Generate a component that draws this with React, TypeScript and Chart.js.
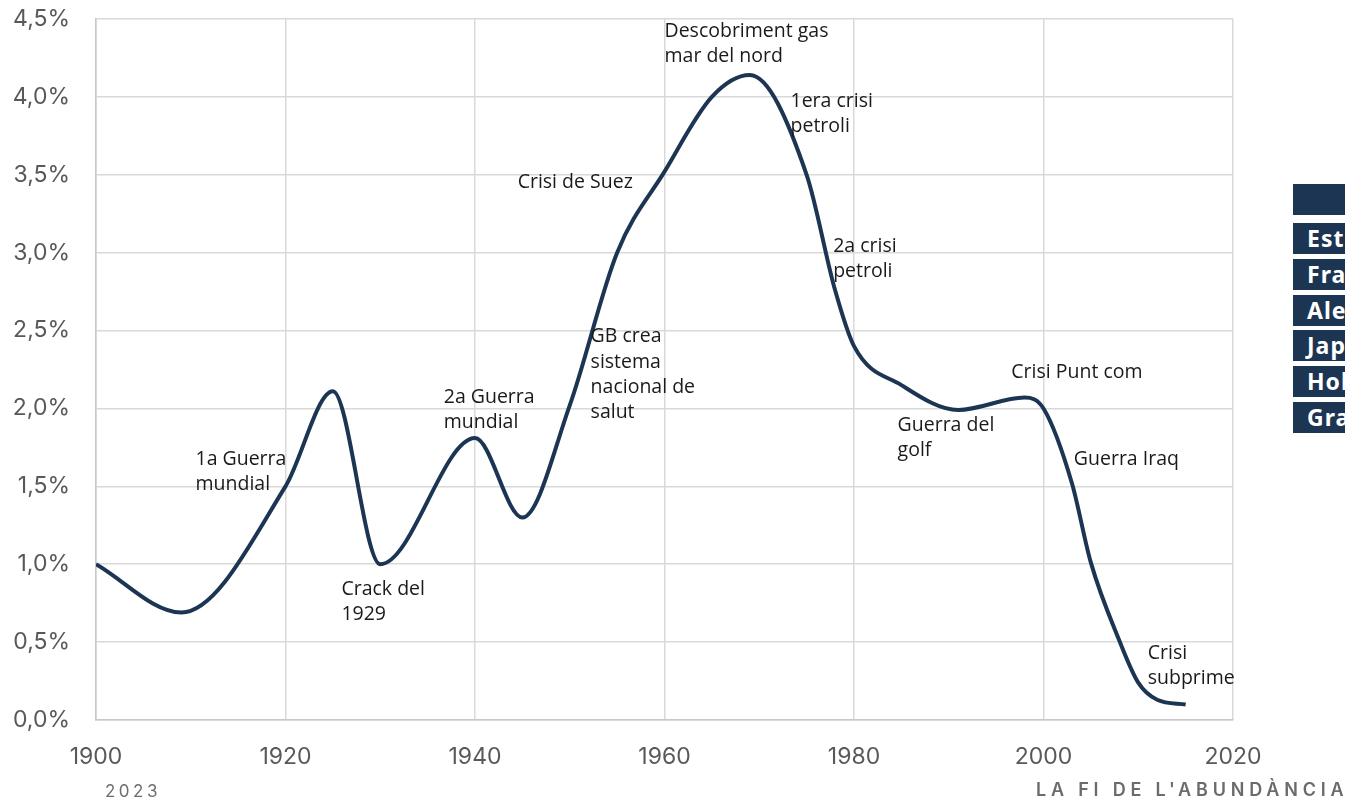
import React, { useEffect, useRef } from "react";
import { Chart, registerables } from "chart.js";

Chart.register(...registerables);

// Years and share values (%)
const years = [1900, 1909, 1920, 1925, 1930, 1940, 1945, 1950, 1955, 1960, 1965, 1969, 1975, 1978, 1980, 1985, 1991, 1998, 2000, 2003, 2005, 2008, 2010, 2012, 2015];
const shareValues = [1.0, 0.69, 1.5, 2.11, 1.0, 1.81, 1.3, 2.02, 3.0, 3.52, 4.0, 4.14, 3.5, 2.76, 2.4, 2.15, 1.99, 2.07, 2.0, 1.52, 1.01, 0.51, 0.24, 0.13, 0.1];

// Event annotations (anchored in data units: year, value of first text line)
const annotationLines = [
  ["1a Guerra", "mundial"],
  ["Crack del", "1929"],
  ["2a Guerra", "mundial"],
  ["Crisi de Suez"],
  ["GB crea", "sistema", "nacional de", "salut"],
  ["Descobriment gas", "mar del nord"],
  ["1era crisi", "petroli"],
  ["2a crisi", "petroli"],
  ["Guerra del", "golf"],
  ["Crisi Punt com"],
  ["Guerra Iraq"],
  ["Crisi", "subprime"],
];
const annotationYears = [1910.5, 1925.9, 1936.7, 1944.5, 1952.2, 1960.0, 1973.3, 1977.8, 1984.6, 1996.6, 2003.2, 2011.0];
const annotationValues = [1.675, 0.84, 2.07, 3.45, 2.46, 4.42, 3.97, 3.04, 1.89, 2.23, 1.67, 0.43];

// Side table rows (clipped at the page edge in the reference)
const tableRows = ["Estats Units", "França", "Alemanya", "Japó", "Holanda", "Gran Bretanya"];

const xTicksMin = 1900;
const xTicksMax = 2020;
const yTicksMax = 4.5;

const annotationPlugin = {
  id: "eventAnnotations",
  afterDatasetsDraw(chart: any) {
    const { ctx, scales } = chart;
    ctx.save();
    ctx.font = "19.5px 'Open Sans'";
    ctx.fillStyle = "#1a1a1a";
    ctx.textAlign = "left";
    ctx.textBaseline = "middle";
    annotationLines.forEach((lines, i) => {
      const x = scales.x.getPixelForValue(annotationYears[i]);
      const y = scales.y.getPixelForValue(annotationValues[i]);
      lines.forEach((t, j) => ctx.fillText(t, x, y + j * 25.3));
    });
    ctx.restore();
  },
};

function ChartCanvas() {
  const ref = useRef<HTMLCanvasElement | null>(null);
  useEffect(() => {
    if (!ref.current) return;
    const chart = new Chart(ref.current, {
      type: "line",
      data: {
        datasets: [
          {
            data: years.map((y, i) => ({ x: y, y: shareValues[i] })),
            borderColor: "#1c3553",
            borderWidth: 4,
            pointRadius: 0,
            cubicInterpolationMode: "monotone",
            fill: false,
          },
        ],
      },
      options: {
        responsive: false,
        animation: false,
        events: [],
        layout: { padding: { left: 0, right: 47, top: 19, bottom: 0 } },
        plugins: { legend: { display: false }, tooltip: { enabled: false } },
        scales: {
          x: {
            type: "linear",
            min: xTicksMin,
            max: xTicksMax,
            ticks: {
              stepSize: 20,
              padding: 0,
              color: "#595959",
              font: { family: "Inter", size: 23 },
              callback: (v: any) => String(v),
            },
            grid: { color: "#d9d9d9", lineWidth: 1.5, drawTicks: true, tickLength: 23, tickColor: "rgba(0,0,0,0)" },
            border: { color: "#c8c8c8", width: 1.5 },
            afterFit: (s: any) => { s.height = 82; },
          },
          y: {
            min: 0,
            max: yTicksMax,
            ticks: {
              stepSize: 0.5,
              padding: 0,
              color: "#595959",
              font: { family: "Inter", size: 23 },
              callback: (v: any) => Number(v).toFixed(1).replace(".", ",") + "%",
            },
            grid: { color: "#d9d9d9", lineWidth: 1.5, drawTicks: true, tickLength: 26, tickColor: "rgba(0,0,0,0)" },
            border: { color: "#c8c8c8", width: 1.5 },
            afterFit: (s: any) => { s.width = 96; },
          },
        },
      },
      plugins: [annotationPlugin],
    } as any);
    return () => chart.destroy();
  }, []);
  return <canvas ref={ref} width={1280} height={802} style={{ position: "absolute", left: 0, top: 0 }} />;
}

export default function App() {
  return (
    <div style={{ position: "fixed", left: 0, top: 0, width: 1345, height: 802, overflow: "hidden", background: "#fff" }}>
      <ChartCanvas />
      <div style={{ position: "absolute", left: 1293, top: 184, width: 220, height: 31, background: "#1c3553" }} />
      {tableRows.map((r, i) => (
        <div
          key={r}
          style={{
            position: "absolute",
            left: 1293,
            top: 223 + i * 35.8,
            width: 220,
            height: 31,
            background: "#1c3553",
            color: "#fff",
            fontFamily: "'Noto Sans', sans-serif",
            fontWeight: 700,
            fontSize: 23,
            lineHeight: "31px",
            paddingLeft: 14,
            boxSizing: "border-box",
            whiteSpace: "nowrap",
            letterSpacing: 1,
          }}
        >
          {r}
        </div>
      ))}
      <div style={{ position: "absolute", left: 105, top: 780, fontFamily: "Inter, sans-serif", fontSize: 17, letterSpacing: 3.5, color: "#6e6e6e", lineHeight: "22px" }}>2023</div>
      <div style={{ position: "absolute", left: 1036, top: 779, fontFamily: "Inter, sans-serif", fontWeight: 600, fontSize: 18, letterSpacing: 4.8, color: "#6b6b6b", lineHeight: "22px", whiteSpace: "nowrap" }}>LA FI DE L'ABUNDÀNCIA</div>
    </div>
  );
}
